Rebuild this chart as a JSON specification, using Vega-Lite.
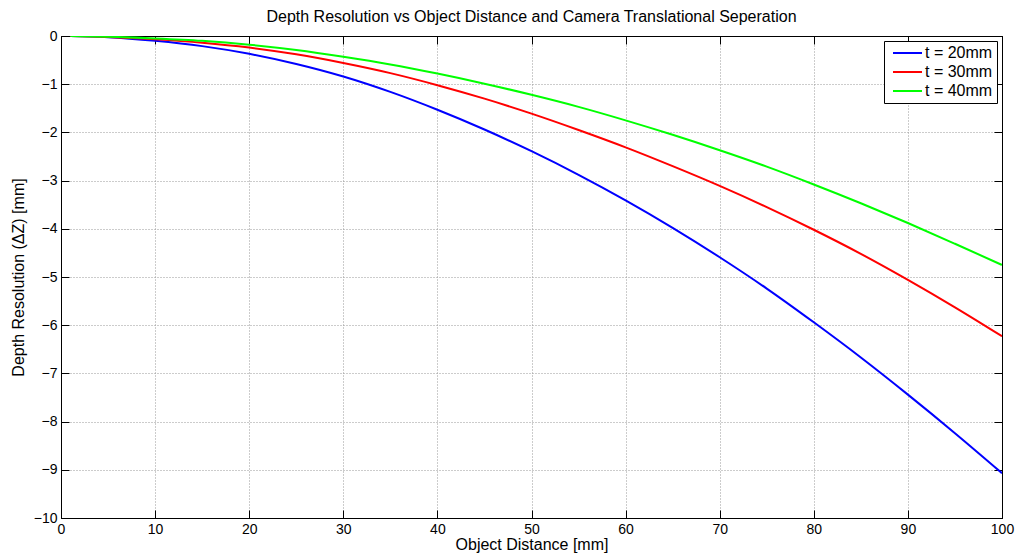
{
  "$schema": "https://vega.github.io/schema/vega-lite/v6.json",
  "autosize": "none",
  "width": 941,
  "height": 482,
  "padding": {"left": 61, "top": 36, "right": 13, "bottom": 37},
  "background": "white",
  "config": {
    "font": "Liberation Sans",
    "view": {"stroke": "black", "strokeWidth": 1},
    "axis": {
      "domainColor": "black",
      "tickColor": "black",
      "labelColor": "black",
      "titleColor": "black",
      "labelFont": "Liberation Sans",
      "titleFont": "Liberation Sans",
      "titleFontWeight": "normal",
      "labelFontSize": 14,
      "titleFontSize": 16,
      "gridColor": "#999999",
      "gridDash": [1, 2],
      "gridWidth": 1,
      "gridOpacity": 1,
      "tickSize": -8,
      "tickWidth": 1
    },
    "legend": {
      "labelFont": "Liberation Sans",
      "labelFontSize": 16,
      "labelColor": "black"
    },
    "title": {"font": "Liberation Sans", "fontSize": 16, "fontWeight": "normal", "color": "black"}
  },
  "title": {
    "text": "Depth Resolution vs Object Distance and Camera Translational Seperation",
    "anchor": "middle",
    "offset": 4
  },
  "data": {
    "values": [
      {"X": 1, "v": -0.001, "series": "t = 20mm"},
      {"X": 5, "v": -0.025, "series": "t = 20mm"},
      {"X": 10, "v": -0.1, "series": "t = 20mm"},
      {"X": 15, "v": -0.21, "series": "t = 20mm"},
      {"X": 20, "v": -0.37, "series": "t = 20mm"},
      {"X": 25, "v": -0.58, "series": "t = 20mm"},
      {"X": 30, "v": -0.84, "series": "t = 20mm"},
      {"X": 35, "v": -1.16, "series": "t = 20mm"},
      {"X": 40, "v": -1.53, "series": "t = 20mm"},
      {"X": 45, "v": -1.94, "series": "t = 20mm"},
      {"X": 50, "v": -2.39, "series": "t = 20mm"},
      {"X": 55, "v": -2.88, "series": "t = 20mm"},
      {"X": 60, "v": -3.41, "series": "t = 20mm"},
      {"X": 65, "v": -3.98, "series": "t = 20mm"},
      {"X": 70, "v": -4.59, "series": "t = 20mm"},
      {"X": 75, "v": -5.24, "series": "t = 20mm"},
      {"X": 80, "v": -5.94, "series": "t = 20mm"},
      {"X": 85, "v": -6.67, "series": "t = 20mm"},
      {"X": 90, "v": -7.44, "series": "t = 20mm"},
      {"X": 95, "v": -8.24, "series": "t = 20mm"},
      {"X": 100, "v": -9.07, "series": "t = 20mm"},
      {"X": 1, "v": -0.001, "series": "t = 30mm"},
      {"X": 5, "v": -0.02, "series": "t = 30mm"},
      {"X": 10, "v": -0.07, "series": "t = 30mm"},
      {"X": 15, "v": -0.14, "series": "t = 30mm"},
      {"X": 20, "v": -0.24, "series": "t = 30mm"},
      {"X": 25, "v": -0.38, "series": "t = 30mm"},
      {"X": 30, "v": -0.56, "series": "t = 30mm"},
      {"X": 35, "v": -0.77, "series": "t = 30mm"},
      {"X": 40, "v": -1.02, "series": "t = 30mm"},
      {"X": 45, "v": -1.3, "series": "t = 30mm"},
      {"X": 50, "v": -1.61, "series": "t = 30mm"},
      {"X": 55, "v": -1.95, "series": "t = 30mm"},
      {"X": 60, "v": -2.31, "series": "t = 30mm"},
      {"X": 65, "v": -2.7, "series": "t = 30mm"},
      {"X": 70, "v": -3.11, "series": "t = 30mm"},
      {"X": 75, "v": -3.55, "series": "t = 30mm"},
      {"X": 80, "v": -4.02, "series": "t = 30mm"},
      {"X": 85, "v": -4.52, "series": "t = 30mm"},
      {"X": 90, "v": -5.06, "series": "t = 30mm"},
      {"X": 95, "v": -5.63, "series": "t = 30mm"},
      {"X": 100, "v": -6.23, "series": "t = 30mm"},
      {"X": 1, "v": -0.001, "series": "t = 40mm"},
      {"X": 5, "v": -0.015, "series": "t = 40mm"},
      {"X": 10, "v": -0.05, "series": "t = 40mm"},
      {"X": 15, "v": -0.1, "series": "t = 40mm"},
      {"X": 20, "v": -0.18, "series": "t = 40mm"},
      {"X": 25, "v": -0.29, "series": "t = 40mm"},
      {"X": 30, "v": -0.43, "series": "t = 40mm"},
      {"X": 35, "v": -0.59, "series": "t = 40mm"},
      {"X": 40, "v": -0.78, "series": "t = 40mm"},
      {"X": 45, "v": -0.99, "series": "t = 40mm"},
      {"X": 50, "v": -1.22, "series": "t = 40mm"},
      {"X": 55, "v": -1.47, "series": "t = 40mm"},
      {"X": 60, "v": -1.75, "series": "t = 40mm"},
      {"X": 65, "v": -2.05, "series": "t = 40mm"},
      {"X": 70, "v": -2.37, "series": "t = 40mm"},
      {"X": 75, "v": -2.71, "series": "t = 40mm"},
      {"X": 80, "v": -3.08, "series": "t = 40mm"},
      {"X": 85, "v": -3.47, "series": "t = 40mm"},
      {"X": 90, "v": -3.88, "series": "t = 40mm"},
      {"X": 95, "v": -4.31, "series": "t = 40mm"},
      {"X": 100, "v": -4.75, "series": "t = 40mm"}
    ]
  },
  "layer": [
    {
      "mark": {"type": "line", "interpolate": "monotone", "strokeWidth": 2, "clip": true},
      "encoding": {
        "x": {
          "field": "X", "type": "quantitative",
          "scale": {"domain": [0, 100], "nice": false, "zero": false},
          "axis": {"orient": "bottom", "title": "Object Distance [mm]", "values": [0,10,20,30,40,50,60,70,80,90,100], "format": "d", "grid": true, "labelPadding": 12, "titlePadding": 0, "labelFlush": false}
        },
        "y": {
          "field": "v", "type": "quantitative",
          "scale": {"domain": [-10, 0], "nice": false, "zero": false},
          "axis": {"orient": "left", "title": "Depth Resolution (ΔZ) [mm]", "values": [-10,-9,-8,-7,-6,-5,-4,-3,-2,-1,0], "format": "d", "grid": true, "labelPadding": 12, "titlePadding": 7, "labelFlush": false}
        },
        "color": {
          "field": "series", "type": "nominal",
          "scale": {"domain": ["t = 20mm", "t = 30mm", "t = 40mm"], "range": ["#0000ff", "#ff0000", "#00ff00"]},
          "legend": {
            "title": null,
            "orient": "top-right",
            "offset": 5,
            "strokeColor": "black",
            "fillColor": "white",
            "padding": 4,
            "cornerRadius": 0,
            "symbolType": "M-0.6,0H5.2",
            "symbolSize": 100,
            "symbolStrokeWidth": 2,
            "labelOffset": 21,
            "rowPadding": 3
          }
        }
      }
    },
    {
      "mark": {"type": "line", "opacity": 0},
      "encoding": {
        "x": {
          "field": "X", "type": "quantitative",
          "axis": {"orient": "top", "title": null, "labels": false, "grid": false, "values": [0,10,20,30,40,50,60,70,80,90,100]}
        },
        "y": {
          "field": "v", "type": "quantitative",
          "axis": {"orient": "right", "title": null, "labels": false, "grid": false, "values": [-10,-9,-8,-7,-6,-5,-4,-3,-2,-1,0]}
        },
        "detail": {"field": "series"}
      }
    }
  ]
}
